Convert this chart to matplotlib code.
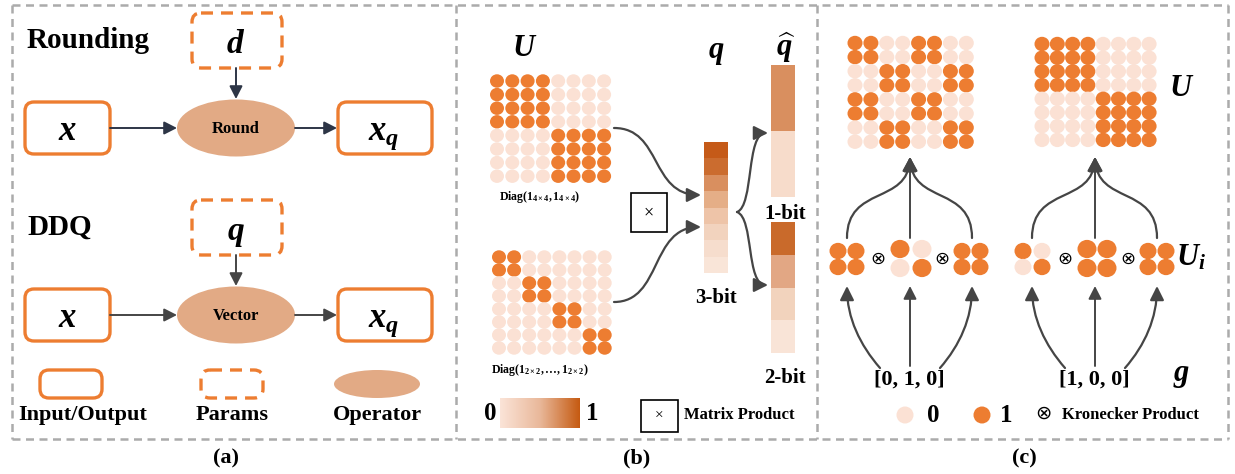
import numpy as np
import matplotlib
matplotlib.use('Agg')
import matplotlib.pyplot as plt
from matplotlib.patches import FancyBboxPatch, Ellipse, Rectangle, FancyArrowPatch
from matplotlib.path import Path
from matplotlib.colors import LinearSegmentedColormap

plt.rcParams['font.family'] = ['Liberation Serif', 'DejaVu Sans']
plt.rcParams['font.weight'] = 'bold'
plt.rcParams['mathtext.fontset'] = 'custom'
plt.rcParams['mathtext.rm'] = 'Liberation Serif:bold'
plt.rcParams['mathtext.it'] = 'Liberation Serif:italic:bold'
plt.rcParams['mathtext.bf'] = 'Liberation Serif:bold'

# ---- data ----
U_diag4 = ["11110000", "11110000", "11110000", "11110000",
           "00001111", "00001111", "00001111", "00001111"]
U_diag2 = ["11000000", "11000000", "00110000", "00110000",
           "00001100", "00001100", "00000011", "00000011"]
U_kron_left = ["11001100", "11001100", "00110011", "00110011",
               "11001100", "11001100", "00110011", "00110011"]
U_kron_right = U_diag4
g_left = [0, 1, 0]
g_right = [1, 0, 0]
factor = {0: ["11", "11"], 1: ["10", "01"]}

q_3bit = ['#c55a18', '#cb6c2f', '#d98f5f', '#e5ae87', '#eec4a8', '#f2d3be', '#f6ddcd', '#f9e5d8']
q_1bit = ['#d98f5f', '#f7dccb']
q_2bit = ['#c96a2b', '#e2a784', '#f2d3bd', '#f9e4d7']

ORANGE = '#ed7d31'
LIGHT = '#fbe1d4'
OPFILL = '#e2aa85'
DARK = '#454545'
NAVY = '#2d3546'
GRAY = '#ababab'

fig = plt.figure(figsize=(12.35, 4.74), dpi=100)
ax = fig.add_axes([0, 0, 1, 1])
ax.set_xlim(0, 1235)
ax.set_ylim(474, 0)
ax.axis('off')


def rbox(x, y, w, h, dashed=False):
    ls = (0, (3.6, 2.4)) if dashed else '-'
    ax.add_patch(FancyBboxPatch((x, y), w, h, boxstyle='round,pad=0,rounding_size=9',
                                fc='white', ec=ORANGE, lw=2.4, ls=ls))


def arrow(p0, p1, color=DARK, lw=1.4):
    ax.add_patch(FancyArrowPatch(p0, p1, arrowstyle='-|>,head_length=0.55,head_width=0.28',
                                 mutation_scale=14, color=color, lw=lw, shrinkA=0, shrinkB=0))


def curve(pts, color=DARK, lw=1.6):
    p = Path(pts, [Path.MOVETO, Path.CURVE4, Path.CURVE4, Path.CURVE4])
    ax.add_patch(FancyArrowPatch(path=p, arrowstyle='-|>,head_length=0.6,head_width=0.3',
                                 mutation_scale=14, color=color, lw=lw))


def dots(rows, x0, y0, dx, dy, d):
    for i, r in enumerate(rows):
        for j, c in enumerate(r):
            ax.add_patch(Ellipse((x0 + j * dx, y0 + i * dy), d, d * 0.96,
                                 color=ORANGE if c == '1' else LIGHT, lw=0))


def bar(colors, x, y0, y1, w=24):
    h = (y1 - y0) / len(colors)
    for k, c in enumerate(colors):
        ax.add_patch(Rectangle((x, y0 + k * h), w, h, color=c, lw=0))


# ---- panel borders ----
bkw = dict(color=GRAY, lw=1.8, ls=(0, (3.2, 2.2)))
ax.plot([12, 1228], [5, 5], **bkw)
ax.plot([12, 1228], [439, 439], **bkw)
for xv in [12, 456, 817, 1228]:
    ax.plot([xv, xv], [5, 439], **bkw)

# ---- panel (a) ----
for dy, title, par, op in [(0, 'Rounding', r'$d$', 'Round'), (187, 'DDQ', r'$q$', 'Vector')]:
    ax.text(27, 48 + dy, title, fontsize=21, fontweight='bold', va='baseline')
    rbox(192, 13 + dy, 90, 55, dashed=True)
    ax.text(236, 53 + dy, par, fontsize=24, ha='center', va='baseline')
    c = NAVY if dy == 0 else DARK
    arrow((236, 68 + dy), (236, 99 + dy), color=c)
    ax.add_patch(Ellipse((236, 128 + dy), 118, 57, color=OPFILL, lw=0))
    ax.text(236, 129 + dy, op, fontsize=12, ha='center', va='center')
    rbox(25, 102 + dy, 85, 52)
    ax.text(67, 140 + dy, r'$x$', fontsize=25, ha='center', va='baseline')
    rbox(338, 102 + dy, 94, 52)
    ax.text(384, 140 + dy, r'$x_q$', fontsize=25, ha='center', va='baseline')
    arrow((110, 128 + dy), (177, 128 + dy), color=c)
    arrow((295, 128 + dy), (337, 128 + dy), color=c)

rbox(40, 370, 62, 28)
rbox(201, 370, 62, 28, dashed=True)
ax.add_patch(Ellipse((377, 384), 86, 28, color=OPFILL, lw=0))
for xx, s in [(83, 'Input/Output'), (232, 'Params'), (377, 'Operator')]:
    ax.text(xx, 420, s, fontsize=16, ha='center', va='baseline')
ax.text(226, 458, '(a)', fontsize=16, ha='center', va='center')

# ---- panel (b) ----
ax.text(525, 48, r'$U$', fontsize=22, ha='center', va='center')
ax.text(716, 52, r'$q$', fontsize=22, ha='center', va='center')
ax.text(786, 48, r'$\widehat{q}$', fontsize=22, ha='center', va='center')

dots(U_diag4, 497, 81, 15.3, 13.6, 14)
ax.text(540, 197, r'Diag$(\mathbf{1}_{4\times4},\mathbf{1}_{4\times4})$', fontsize=8.5,
        ha='center', va='center')
dots(U_diag2, 499, 257, 15.1, 13.0, 14)
ax.text(540, 370, r'Diag$(\mathbf{1}_{2\times2},\ldots,\mathbf{1}_{2\times2})$', fontsize=8.5,
        ha='center', va='center')

ax.add_patch(Rectangle((631, 193), 36, 39, fc='white', ec='black', lw=1.2))
ax.text(649, 213, '×', fontsize=13, ha='center', va='center', fontweight='normal')

bar(q_3bit, 704, 142, 273)
ax.text(716, 298, '3-bit', fontsize=15, ha='center', va='center')
bar(q_1bit, 771, 65, 197)
ax.text(785, 214, '1-bit', fontsize=15, ha='center', va='center')
bar(q_2bit, 771, 222, 353)
ax.text(785, 378, '2-bit', fontsize=15, ha='center', va='center')

curve([(614, 128), (662, 128), (650, 195), (701, 195)])
curve([(614, 302), (662, 302), (650, 227), (701, 227)])
curve([(737, 212), (754, 206), (746, 133), (768, 133)])
curve([(737, 212), (754, 218), (746, 285), (768, 285)])

cmap = LinearSegmentedColormap.from_list('q', ['#fbe4d8', '#e9b89a', '#c55a11'])
ax.imshow(np.linspace(0, 1, 256)[None, :], cmap=cmap, extent=(500, 580, 428, 398),
          aspect='auto', zorder=1)
ax.text(490, 414, '0', fontsize=18, ha='center', va='center')
ax.text(592, 414, '1', fontsize=18, ha='center', va='center')
ax.add_patch(Rectangle((641, 400), 37, 32, fc='white', ec='black', lw=1.2))
ax.text(659.5, 416, '×', fontsize=11, ha='center', va='center', fontweight='normal')
ax.text(684, 415, 'Matrix Product', fontsize=12, ha='left', va='center')
ax.text(637, 458, '(b)', fontsize=16, ha='center', va='center')

# ---- panel (c) ----
dots(U_kron_left, 855, 43, 15.9, 14.1, 15)
dots(U_kron_right, 1042, 44, 15.3, 13.7, 15)

group_x = [[(838, 856), (900, 922), (962, 980)],
           [(1023, 1042), (1087, 1107), (1148, 1166)]]
for gi, g in enumerate([g_left, g_right]):
    for k, v in enumerate(g):
        xs = group_x[gi][k]
        d = 19 if k == 1 else 17
        ys = (249, 268) if k == 1 else (251, 267)
        dots(factor[v], xs[0], ys[0], xs[1] - xs[0], ys[1] - ys[0], d)
    for k in range(2):
        xo = (group_x[gi][k][1] + group_x[gi][k + 1][0]) / 2
        ax.text(xo, 259, '⊗', fontsize=13, ha='center', va='center',
                family=['DejaVu Sans'], fontweight='normal')

for cx, lab, tip in [(910, '[0, 1, 0]', 157), (1095, '[1, 0, 0]', 157)]:
    ax.text(cx - 1, 380, lab, fontsize=16, ha='center', va='center')
    lx, rx = cx - 63, cx + 62
    # up from g to U_i
    curve([(cx - 30, 368), (cx - 50, 345), (lx, 318), (lx, 286)])
    arrow((cx, 366), (cx, 286))
    curve([(cx + 30, 368), (cx + 50, 345), (rx, 318), (rx, 286)])
    # up from U_i to U
    curve([(lx, 238), (lx, 185), (cx - 2, 205), (cx, tip)])
    arrow((cx, 238), (cx, tip))
    curve([(rx, 238), (rx, 185), (cx + 2, 205), (cx, tip)])

ax.text(1182, 88, r'$U$', fontsize=22, ha='center', va='center')
ax.text(1176, 258, r'$U_i$', fontsize=22, ha='left', va='center')
ax.text(1182, 376, r'$g$', fontsize=22, ha='center', va='center')

ax.add_patch(Ellipse((905, 415), 17, 17, color=LIGHT, lw=0))
ax.text(933, 415, '0', fontsize=18, ha='center', va='center')
ax.add_patch(Ellipse((982, 415), 17, 17, color=ORANGE, lw=0))
ax.text(1006, 415, '1', fontsize=18, ha='center', va='center')
ax.text(1043, 413, '⊗', fontsize=14, ha='center', va='center',
        family=['DejaVu Sans'], fontweight='normal')
ax.text(1062, 415, 'Kronecker Product', fontsize=12, ha='left', va='center')
ax.text(1024, 458, '(c)', fontsize=16, ha='center', va='center')

fig.savefig('out.png', dpi=100)
